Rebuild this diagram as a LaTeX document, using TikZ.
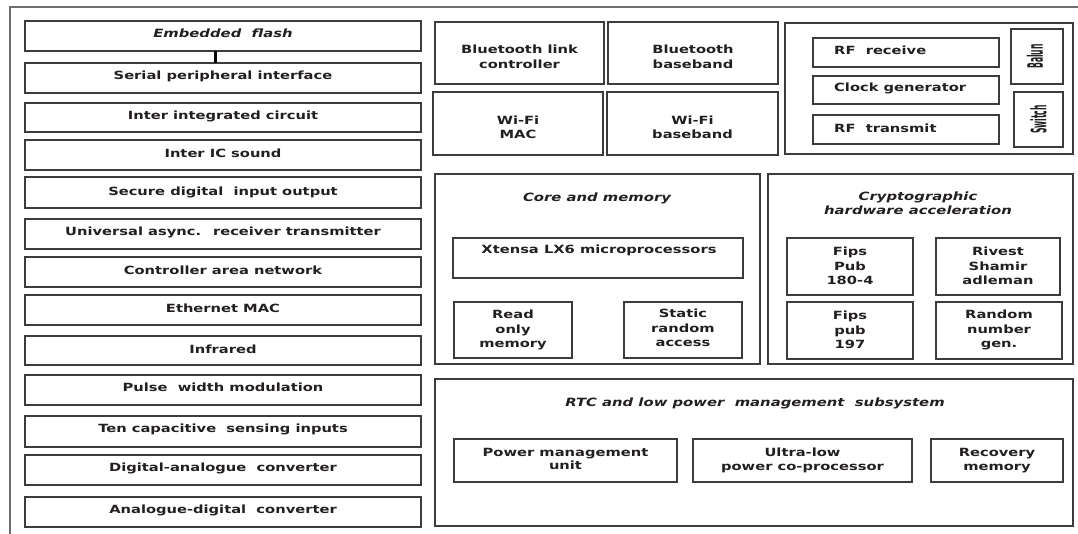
\documentclass[tikz,border=0pt]{standalone}
\usepackage{fontspec}
\setmainfont{DejaVu Sans}[FakeStretch=1.3]
\newfontfamily\condfont{DejaVu Sans Condensed}
\usetikzlibrary{fit}
\definecolor{edge}{HTML}{3C3C3C}
\definecolor{ink}{HTML}{231F20}
\definecolor{framec}{HTML}{6E6E6E}
\tikzset{
  box/.style={draw=edge, line width=1.4pt, inner sep=0pt, outer sep=0pt},
  lbl/.style={text=ink, font=\fontsize{11.3}{14.5}\selectfont\bfseries, align=center, inner sep=0pt},
  lbll/.style={lbl, anchor=west},
  ttl/.style={text=ink, font=\fontsize{11.4}{14}\selectfont\bfseries\itshape, align=center, inner sep=0pt},
  vlbl/.style={text=ink, font=\fontsize{8.5}{10}\selectfont\condfont\bfseries, rotate=90, inner sep=0pt},
  frame/.style={draw=framec, line width=1.5pt},
  bar/.style={draw=black, line width=3pt}
}
\newcommand\blk[5]{%
  \coordinate (#1-a) at (#2,#3);
  \coordinate (#1-b) at (#4,#5);
  \node[box, fit=(#1-a)(#1-b)] (#1) {};}
\begin{document}
\begin{tikzpicture}[x=1pt, y=-1pt]
\useasboundingbox (0,0) rectangle (1078,533);
\fill[white] (0,0) rectangle (1078,533);
% outer frame (cut by page edges)
\draw[frame] (10,560) -- (10,7) -- (1100,7);

% left column
\blk{ef}{25}{21}{421}{51}
\blk{spi}{25}{63}{421}{93}
\blk{iic}{25}{103}{421}{132}
\blk{iis}{25}{140}{421}{170}
\blk{sdio}{25}{177}{421}{208}
\blk{uart}{25}{219}{421}{249}
\blk{can}{25}{257}{421}{287}
\blk{eth}{25}{295}{421}{325}
\blk{ir}{25}{336}{421}{365}
\blk{pwm}{25}{375}{421}{405}
\blk{tcs}{25}{416}{421}{447}
\blk{dac}{25}{455}{421}{485}
\blk{adc}{25}{497}{421}{527}
\node[ttl] (ef-t) at (223,33) {Embedded \ flash};
\node[lbl] (spi-t) at (223,76) {Serial peripheral interface};
\node[lbl] (iic-t) at (223,116) {Inter integrated circuit};
\node[lbl] (iis-t) at (223,153) {Inter IC sound};
\node[lbl] (sdio-t) at (223,192) {Secure digital \ input output};
\node[lbl] (uart-t) at (223,232) {Universal async. \ receiver transmitter};
\node[lbl] (can-t) at (223,270) {Controller area network};
\node[lbl] (eth-t) at (223,308) {Ethernet MAC};
\node[lbl] (ir-t) at (223,349) {Infrared};
\node[lbl] (pwm-t) at (223,387) {Pulse \ width modulation};
\node[lbl] (tcs-t) at (223,429) {Ten capacitive \ sensing inputs};
\node[lbl] (dac-t) at (223,468) {Digital-analogue \ converter};
\node[lbl] (adc-t) at (223,510) {Analogue-digital \ converter};
\draw[bar] ([xshift=-8pt]ef.south) -- ([xshift=-8pt]spi.north);

% wireless blocks
\blk{btlc}{435}{22}{604}{84}
\blk{btbb}{608}{22}{778}{84}
\blk{wmac}{433}{92}{603}{155}
\blk{wbb}{607}{92}{778}{155}
\node[lbl] (btlc-t) at (519.5,57) {Bluetooth link\\controller};
\node[lbl] (btbb-t) at (693,57) {Bluetooth\\baseband};
\node[lbl] (wmac-t) at (518,127.5) {Wi-Fi\\MAC};
\node[lbl] (wbb-t) at (692.5,127.5) {Wi-Fi\\baseband};

% RF group
\blk{rf}{785}{23}{1073}{154}
\blk{rfrx}{813}{38}{999}{67}
\blk{clk}{813}{76}{999}{104}
\blk{rftx}{813}{115}{999}{144}
\blk{balun}{1011}{29}{1063}{84}
\blk{sw}{1014}{92}{1063}{147}
\node[lbll] (rfrx-t) at (834,50) {RF \ receive};
\node[lbll] (clk-t) at (834,88) {Clock generator};
\node[lbll] (rftx-t) at (834,128) {RF \ transmit};
\node[vlbl] (balun-t) at ([xshift=-2pt]balun.center) {\scalebox{1}[2.5]{Balun}};
\node[vlbl] (sw-t) at (sw.center) {\scalebox{1}[2.5]{Switch}};

% core and memory
\blk{core}{435}{174}{760}{364}
\blk{xt}{453}{238}{743}{278}
\blk{rom}{454}{302}{572}{358}
\blk{sram}{624}{302}{742}{358}
\node[ttl] (core-t) at (597,198) {Core and memory};
\node[lbl] (xt-t) at (599,250) {Xtensa LX6 microprocessors};
\node[lbl] (rom-t) at (513,330) {Read\\only\\memory};
\node[lbl] (sram-t) at (683,328) {Static\\random\\access};

% cryptographic
\blk{cry}{768}{174}{1073}{364}
\blk{sha}{787}{238}{913}{295}
\blk{rsa}{936}{238}{1060}{295}
\blk{aes}{787}{302}{913}{359}
\blk{rng}{936}{302}{1062}{359}
\node[ttl] (cry-t) at (918,203.5) {Cryptographic\\hardware acceleration};
\node[lbl] (sha-t) at (850,266) {Fips\\Pub\\180-4};
\node[lbl] (rsa-t) at (998,266) {Rivest\\Shamir\\adleman};
\node[lbl] (aes-t) at (850,330) {Fips\\pub\\197};
\node[lbl] (rng-t) at (999,330) {Random\\number\\gen.};

% RTC
\blk{rtc}{435}{379}{1073}{526}
\blk{pmu}{454}{439}{677}{482}
\blk{ulp}{693}{439}{912}{482}
\blk{rec}{931}{439}{1063}{482}
\node[ttl] (rtc-t) at (755,403) {RTC and low power \ management \ subsystem};
\node[lbl, font=\fontsize{11.3}{12.5}\selectfont\bfseries] (pmu-t) at (565.5,459) {Power management\\unit};
\node[lbl] (ulp-t) at (802.5,460.5) {Ultra-low\\power co-processor};
\node[lbl] (rec-t) at (997,460.5) {Recovery\\memory};
\end{tikzpicture}
\end{document}
